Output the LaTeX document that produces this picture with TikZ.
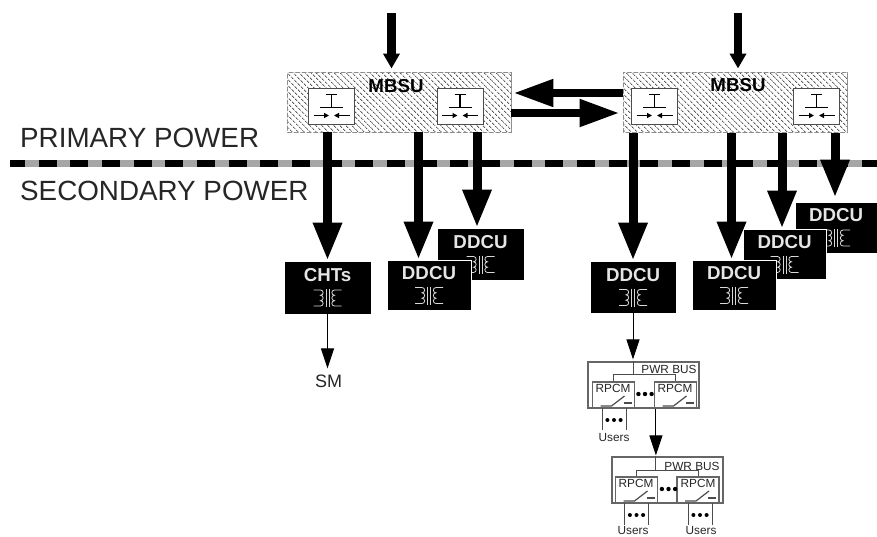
\documentclass[tikz,border=0pt]{standalone}
\usepackage{fontspec}
\setmainfont{Liberation Sans}
\usetikzlibrary{arrows.meta,patterns,patterns.meta}

\tikzset{
    fatarrow/.style={line width=9pt, -{Triangle[length=38pt,width=27pt]}},
    feedarrow/.style={line width=8.5pt, -{Triangle[length=15pt,width=16pt]}},
    tiearrow/.style={line width=8pt, -{Triangle[length=40pt,width=26pt]}},
    thinarrow/.style={line width=1pt, black, -{Triangle[length=20pt,width=13pt]}},
    thinline/.style={line width=1pt, black!70},
    mbsubox/.style={draw=black!45, line width=1pt, inner sep=0pt, minimum width=224pt, minimum height=60pt,
        pattern={Lines[angle=-45,distance=4pt,line width=.9pt]}, pattern color=black!65,
        postaction={pattern={Lines[angle=45,distance=4.6pt,line width=1pt]}, pattern color=white}},
    switchbox/.style={draw=black!70, line width=1pt, fill=white, inner sep=0pt, minimum width=46pt, minimum height=36pt},
    blackbox/.style={draw=white, line width=.8pt, fill=black, inner sep=0pt},
    blacktext/.style={text=white!90!black, inner sep=0pt, font=\bfseries\fontsize{18.7}{20}\selectfont},
    busbox/.style={draw=black!60, line width=1.2pt, fill=white, inner sep=0pt, minimum width=111pt, minimum height=46pt},
    rpcmbox/.style={draw=black!60, line width=1.2pt, fill=white, inner sep=0pt, minimum width=42pt, minimum height=26pt},
    smalltext/.style={inner sep=0pt, text=black!85, font=\fontsize{11.8}{13}\selectfont},
    powertext/.style={inner sep=0pt, anchor=west, text=black!85, font=\fontsize{27.8}{30}\selectfont},
    % breaker symbol, origin at the middle of its box
    breaker/.pic={
        \draw[line width=1.3pt] (-5.5,-12) -- (5.5,-12);
        \draw[line width=1.3pt] (0,-12) -- (0,1);
        \draw[line width=1.3pt] (-11.5,1) -- (11.5,1);
        \draw[line width=1.3pt, -{Triangle[length=5pt,width=5pt]}] (-18,9) -- (-2.5,9);
        \draw[line width=1.3pt, -{Triangle[length=5pt,width=5pt]}] (18,9) -- (2.5,9);
    },
    % transformer symbol, white on the black boxes
    transformer/.pic={
        \draw[white!85!black, line width=.8pt] (-1.5,-9) -- (-1.5,9);
        \draw[white!85!black, line width=.8pt] (1.5,-9) -- (1.5,9);
        \foreach \s in {-1, 1} {
            \draw[white!85!black, line width=.8pt] (\s*14,-8) -- (\s*7,-8)
                .. controls (\s*3.5,-8) and (\s*3.5,-2.7) .. (\s*7,-2.7)
                .. controls (\s*3.5,-2.7) and (\s*3.5,2.7) .. (\s*7,2.7)
                .. controls (\s*3.5,2.7) and (\s*3.5,8) .. (\s*7,8) -- (\s*14,8);
        }
    },
    % open switch inside an RPCM box, origin at the middle of the box
    rpcmswitch/.pic={
        \draw[line width=1.2pt, black!70] (-13,11) -- (-2,11) -- (11,1);
        \draw[line width=1.2pt, black!70] (10,8) -- (18,8);
    },
    threedots/.pic={
        \foreach \i in {-6.6, 0, 6.6} \fill (\i,0) circle (2.2);
    },
    % wires to the users, origin under the middle of the RPCM box
    userwires/.pic={
        \draw[thinline] (-12,0) -- (-12,22);
        \draw[thinline] (12,0) -- (12,22);
        \foreach \i in {-6.6, 0, 6.6} \fill (\i,12) circle (2);
    },
}

\begin{document}
\begin{tikzpicture}[x=1pt, y=-1pt]
    \useasboundingbox (0, 0) rectangle (877, 536);

    % power boundary
    \coordinate (lineL) at (10, 163.5);
    \coordinate (lineR) at (877, 163.5);
    \draw[line width=6.5pt, black!35] (lineL) -- (lineR);
    \draw[line width=6.5pt, dash pattern=on 18pt off 13.67pt, dash phase=3pt] (lineL) -- (lineR);
    \node[powertext] (primary) at (20, 138) {PRIMARY POWER};
    \node[powertext] (secondary) at (20, 191) {SECONDARY POWER};

    % MBSUs
    \node[mbsubox] (mbsuL) at (399, 102) {};
    \node[mbsubox] (mbsuR) at (735, 102) {};
    \node[inner sep=0pt, font=\bfseries\fontsize{18.7}{20}\selectfont] (mbsuLtext) at (396, 86) {MBSU};
    \node[inner sep=0pt, font=\bfseries\fontsize{18.7}{20}\selectfont] (mbsuRtext) at (738, 85) {MBSU};
    \foreach \nm/\x in {swA/331.5, swB/460, swC/654.5, swD/816.5} {
        \node[switchbox] (\nm) at (\x, 106.5) {};
        \pic at (\nm) {breaker};
    }

    % feeds into the MBSUs
    \coordinate (feedL) at (391.5, 13);
    \coordinate (feedR) at (738, 13);
    \draw[feedarrow] (feedL) -- ([yshift=3pt]feedL |- mbsuL.north);
    \draw[feedarrow] (feedR) -- ([yshift=3pt]feedR |- mbsuR.north);

    % ties between the MBSUs
    \draw[tiearrow] ([yshift=9pt]mbsuR.west) -- ([xshift=2pt,yshift=9pt]mbsuL.east);
    \draw[tiearrow] ([yshift=-11pt]mbsuL.east) -- ([xshift=-3pt,yshift=-11pt]mbsuR.west);

    % black boxes, the back ones first
    \foreach \nm/\txt/\x/\y/\w/\h in {chts/CHTs/327.5/287.5/87/53,
            ddcuB/DDCU/480.5/254/87/52, ddcuA/DDCU/429/285/84/50,
            ddcuC/DDCU/633/287/86/52,
            ddcuF/DDCU/836/227.5/82/51, ddcuE/DDCU/784.5/254/83/50, ddcuD/DDCU/734/285/84/50} {
        \node[blackbox, minimum width=\w pt, minimum height=\h pt] (\nm) at (\x, \y) {};
        \node[blacktext] (\nm text) at ([yshift=12pt]\nm.center) {\txt};
        \pic at ([yshift=-10.5pt]\nm.center) {transformer};
    }

    % feeders across the boundary
    \draw[fatarrow] (mbsuL.south -| chts.north) -- (chts.north);
    \draw[fatarrow] ([xshift=-10.5pt]ddcuA.north |- mbsuL.south) -- ([xshift=-10.5pt]ddcuA.north);
    \draw[fatarrow] ([xshift=-3.5pt]ddcuB.north |- mbsuL.south) -- ([xshift=-3.5pt]ddcuB.north);
    \draw[fatarrow] (mbsuR.south -| ddcuC.north) -- (ddcuC.north);
    \draw[fatarrow] ([xshift=-2.5pt]ddcuD.north |- mbsuR.south) -- ([xshift=-2.5pt]ddcuD.north);
    \draw[fatarrow] ([xshift=-2.5pt]ddcuE.north |- mbsuR.south) -- ([xshift=-2.5pt]ddcuE.north);
    \draw[fatarrow] ([xshift=-1pt]ddcuF.north |- mbsuR.south) -- ([xshift=-1pt,yshift=4pt]ddcuF.north);

    % SM
    \node[inner sep=0pt, text=black!85, font=\fontsize{18}{20}\selectfont] (sm) at (328.5, 381) {SM};
    \draw[thinarrow] (chts.south) -- ([yshift=6pt]chts.south |- sm.north);

    % first power bus
    \node[busbox] (busA) at (643.5, 385) {};
    \node[smalltext] (busAtext) at (669, 369.5) {PWR BUS};
    \node[rpcmbox] (rpcmA) at (613.5, 395) {};
    \node[rpcmbox] (rpcmB) at (675.5, 395) {};
    \node[smalltext] (rpcmAtext) at (613, 388.5) {RPCM};
    \node[smalltext] (rpcmBtext) at (675, 388.5) {RPCM};
    \pic at (rpcmA) {rpcmswitch};
    \pic at (rpcmB) {rpcmswitch};
    \pic at (645, 394) {threedots};
    \pic at (614, 408) {userwires};
    \node[smalltext] (usersA) at (614, 437) {Users};
    \draw[thinarrow] (ddcuC.south) -- ([yshift=2pt]ddcuC.south |- busA.north);
    \draw[thinline] (busA.north -| ddcuC.south) -- ++(0, 13);
    \draw[thinline] (rpcmA.north) -- ++(0, -7) -| (rpcmB.north);

    % second power bus
    \node[busbox] (busB) at (667.5, 480) {};
    \node[smalltext] (busBtext) at (692, 466) {PWR BUS};
    \node[rpcmbox] (rpcmC) at (636.5, 490) {};
    \node[rpcmbox] (rpcmD) at (698, 490) {};
    \node[smalltext] (rpcmCtext) at (636, 483) {RPCM};
    \node[smalltext] (rpcmDtext) at (698, 483) {RPCM};
    \pic at (rpcmC) {rpcmswitch};
    \pic at (rpcmD) {rpcmswitch};
    \pic at (668.5, 489) {threedots};
    \pic at (636.5, 503) {userwires};
    \pic at (700, 503) {userwires};
    \node[smalltext] (usersB) at (633, 530.5) {Users};
    \node[smalltext] (usersC) at (701, 530.5) {Users};
    \draw[thinarrow] ([xshift=2pt]rpcmB.south west) -- ([xshift=2pt,yshift=1pt]rpcmB.south west |- busB.north);
    \draw[thinline] ([xshift=2pt]rpcmB.south west |- busB.north) -- ++(0, 14);
    \draw[thinline] (rpcmC.north) -- ++(0, -6) -| (rpcmD.north);
\end{tikzpicture}
\end{document}
